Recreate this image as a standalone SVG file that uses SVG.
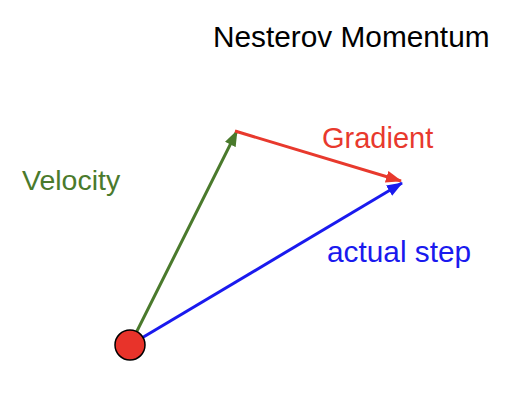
<svg xmlns="http://www.w3.org/2000/svg" width="514" height="412" viewBox="0 0 514 412">
<style>
text{font-family:"Liberation Sans",Arial,sans-serif}
.ln{stroke-width:3;fill:none}
</style>
<defs>
<marker id="ag" markerUnits="userSpaceOnUse" markerWidth="16" markerHeight="12" refX="15" refY="6" orient="auto"><path d="M0,0 L16,6 L0,12 z" fill="#4a7a2c"/></marker>
<marker id="ar" markerUnits="userSpaceOnUse" markerWidth="16" markerHeight="12" refX="15" refY="6" orient="auto"><path d="M0,0 L16,6 L0,12 z" fill="#e8392d"/></marker>
<marker id="ab" markerUnits="userSpaceOnUse" markerWidth="16" markerHeight="12" refX="15" refY="6" orient="auto"><path d="M0,0 L16,6 L0,12 z" fill="#1a1aee"/></marker>
</defs>
<rect width="514" height="412" fill="#fff"/>
<g id="title"><text x="213" y="47" font-size="29.8" fill="#000">Nesterov Momentum</text></g>
<g id="connectors">
<line class="ln" x1="130" y1="345" x2="237" y2="131" stroke="#4a7a2c" marker-end="url(#ag)"/>
<line class="ln" x1="235" y1="131" x2="401" y2="181" stroke="#e8392d" marker-end="url(#ar)"/>
<line class="ln" x1="130" y1="345" x2="402" y2="183" stroke="#1a1aee" marker-end="url(#ab)"/>
</g>
<g id="start"><circle cx="130" cy="345" r="15" fill="#e8332a" stroke="#000" stroke-width="1.5"/></g>
<g id="velocity"><text x="22" y="190" font-size="28.5" fill="#4a7a2c">Velocity</text></g>
<g id="gradient"><text x="322" y="148" font-size="29" fill="#e8392d">Gradient</text></g>
<g id="actual-step"><text x="327" y="262" font-size="29.8" fill="#1a1aee">actual step</text></g>
</svg>
